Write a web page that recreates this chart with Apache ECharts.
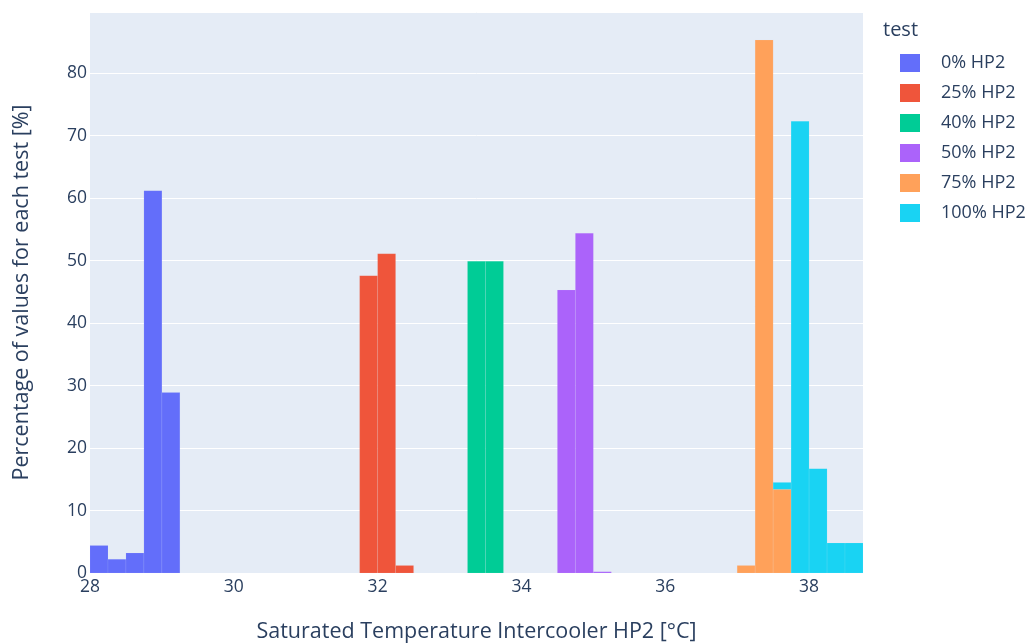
<!DOCTYPE html>
<html>
<head>
<meta charset="utf-8">
<script src="https://cdn.jsdelivr.net/npm/echarts@6/dist/echarts.min.js"></script>
<style>html,body{margin:0;padding:0;background:#fff}#c{width:1033px;height:644px}</style>
</head>
<body>
<div id="c"></div>
<script>
// ---- data ----
const BIN_WIDTH = 0.25;
const seriesNames = ['0% HP2', '25% HP2', '40% HP2', '50% HP2', '75% HP2', '100% HP2'];
const colors = ['#636EFA', '#EF553B', '#00CC96', '#AB63FA', '#FFA15A', '#19D3F3'];
const binStarts0 = [28, 28.25, 28.5, 28.75, 29];
const values0 = [4.4, 2.2, 3.2, 61.2, 28.9];
const binStarts25 = [31.75, 32, 32.25];
const values25 = [47.6, 51.1, 1.2];
const binStarts40 = [33.25, 33.5];
const values40 = [49.9, 49.9];
const binStarts50 = [34.5, 34.75, 35];
const values50 = [45.3, 54.4, 0.2];
const binStarts75 = [37, 37.25, 37.5];
const values75 = [1.2, 85.3, 13.4];
const binStarts100 = [37.5, 37.75, 38, 38.25, 38.5];
const values100 = [1.1, 72.3, 16.7, 4.8, 4.8];
const xTicks = [28, 30, 32, 34, 36, 38];
const yTicks = [0, 10, 20, 30, 40, 50, 60, 70, 80];
const xTitle = 'Saturated Temperature Intercooler HP2 [°C]';
const yTitle = 'Percentage of values for each test [%]';
const legendTitle = 'test';

const allStarts = [binStarts0, binStarts25, binStarts40, binStarts50, binStarts75, binStarts100];
const allValues = [values0, values25, values40, values50, values75, values100];

// stacking (relative barmode)
const stackBase = {};
const seriesData = allStarts.map((starts, si) => starts.map((s, i) => {
  const key = s.toFixed(3);
  const base = stackBase[key] || 0;
  const top = base + allValues[si][i];
  stackBase[key] = top;
  return [s, s + BIN_WIDTH, base, top];
}));

const font = '"Open Sans", "Noto Sans", sans-serif';
const textColor = '#2a3f5f';

const chart = echarts.init(document.getElementById('c'), null, {renderer: 'canvas'});
chart.setOption({
  animation: false,
  backgroundColor: '#ffffff',
  textStyle: {fontFamily: font, color: textColor},
  grid: {left: 90, top: 12, width: 773, height: 561, show: true, backgroundColor: '#E5ECF6', borderWidth: 0,
    containLabel: false, outerBoundsMode: 'none'},
  xAxis: {
    type: 'value', min: 28, max: 38.75, interval: 2,
    axisLine: {show: false}, axisTick: {show: false}, splitLine: {show: false},
    axisLabel: {color: textColor, fontSize: 17.5, fontFamily: font, margin: 5, showMaxLabel: false,
      formatter: v => xTicks.includes(v) ? String(v) : ''},
    name: xTitle, nameLocation: 'middle', nameGap: 48,
    nameTextStyle: {color: textColor, fontSize: 21.5, fontFamily: font}
  },
  yAxis: {
    type: 'value', min: 0, max: 89.8, interval: 10,
    axisLine: {show: false}, axisTick: {show: false},
    splitLine: {show: true, lineStyle: {color: '#ffffff', width: 1}},
    axisLabel: {color: textColor, fontSize: 17.5, fontFamily: font, margin: 3, showMaxLabel: false,
      formatter: v => yTicks.includes(v) ? String(v) : ''},
    name: yTitle, nameLocation: 'middle', nameGap: 57,
    nameTextStyle: {color: textColor, fontSize: 21.5, fontFamily: font}
  },
  legend: {
    orient: 'vertical', left: 900, top: 54, padding: 0,
    itemWidth: 20, itemHeight: 18, itemGap: 12, icon: 'rect',
    data: seriesNames,
    textStyle: {color: textColor, fontSize: 18, fontFamily: font, padding: [0, 0, 0, 16]}
  },
  graphic: [{
    type: 'text', left: 883, top: 20,
    style: {text: legendTitle, fill: textColor, font: '20px ' + font}
  }],
  series: seriesNames.map((name, si) => ({
    name, type: 'custom', color: colors[si],
    itemStyle: {color: colors[si]},
    data: seriesData[si],
    encode: {x: [0, 1], y: [2, 3]},
    renderItem: (params, api) => {
      const p0 = api.coord([api.value(0), api.value(3)]);
      const p1 = api.coord([api.value(1), api.value(2)]);
      return {
        type: 'rect',
        shape: {x: p0[0], y: p0[1], width: p1[0] - p0[0], height: p1[1] - p0[1]},
        style: {fill: colors[si], stroke: 'rgba(229,236,246,0.2)', lineWidth: 0.5}
      };
    }
  }))
});
</script>
</body>
</html>
